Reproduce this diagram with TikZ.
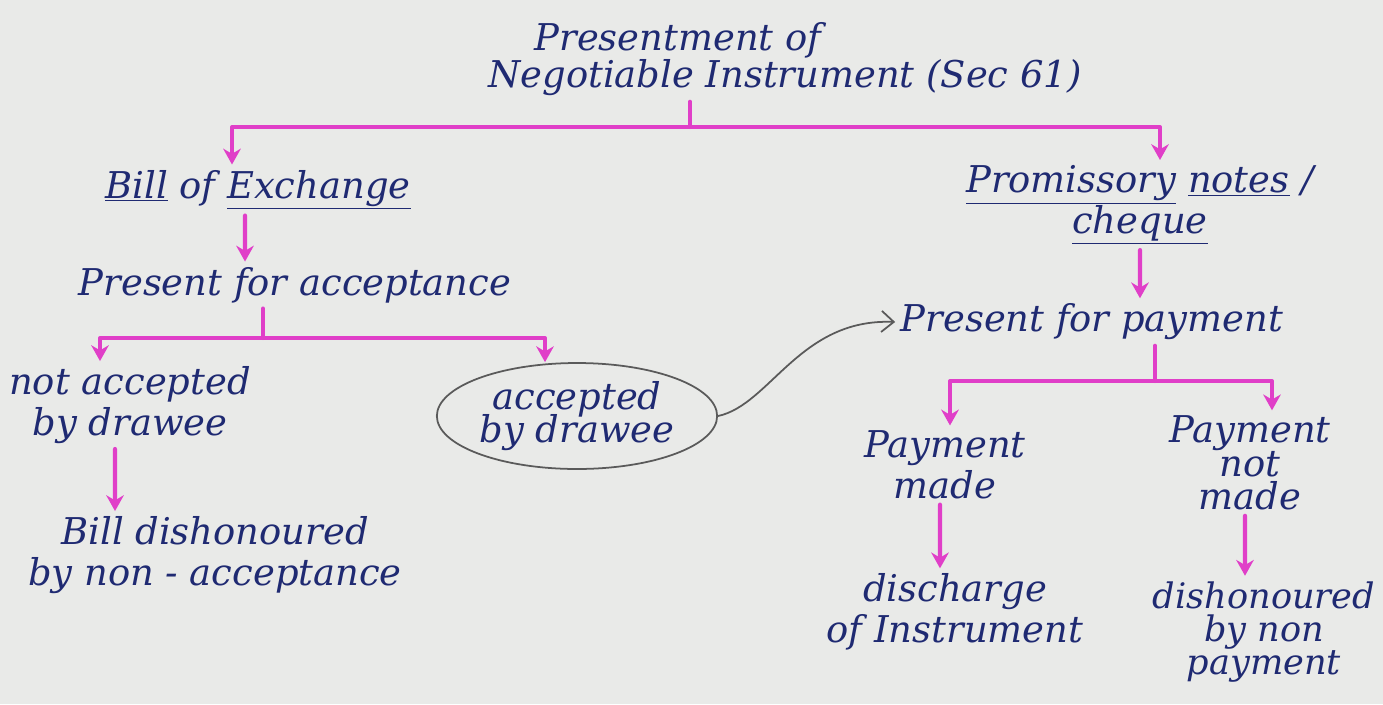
\documentclass[tikz,border=0pt]{standalone}
\usepackage{fontspec}
\setmainfont{DejaVu Serif}
\usetikzlibrary{arrows.meta,positioning,shapes.geometric}
\definecolor{Paper}{HTML}{E9EAE8}
\definecolor{Ink}{HTML}{1F2A72}
\definecolor{Marker}{HTML}{E03FC8}
\definecolor{Pencil}{HTML}{5A5A5A}

\begin{document}
\begin{tikzpicture}[x=0.02cm,y=-0.02cm,>=Latex]
        \tikzset{
          hand/.style={
            text=Ink,
            font=\itshape\fontsize{21}{23}\selectfont,
            align=center,
            inner sep=3pt
          },
          branch/.style={draw=Marker,line width=2.3pt,line cap=round,line join=round},
          down/.style={branch,-{Stealth[length=9pt,width=10pt]}},
          link/.style={draw=Pencil,line width=1pt,-{Straight Barb[length=7pt,width=12pt]}}
        }
        \fill[Paper] (0,0) rectangle (1383,704);
        \useasboundingbox (0,0) rectangle (1383,704);
        % titles
        \node[hand] (title1) at (678,40) {Presentment of};
        \node[hand] (title2) at (785,78) {Negotiable Instrument (Sec 61)};
        % left side
        \node[hand] (boe) at (258,190) {\underline{Bill} of \underline{Exchange}};
        \node[hand] (pfa) at (295,285) {Present for acceptance};
        \node[hand] (nab) at (130,405) {not accepted\\by drawee};
        \node[hand,ellipse,draw=Pencil,line width=1pt,inner sep=1pt,minimum width=4.9cm,minimum height=2.12cm] (abd) at (577,416) {accepted\\[-4pt]by drawee};
        \node[hand] (bdna) at (215,555) {Bill dishonoured\\by non - acceptance};
        % right side
        \node[hand] (pn) at (1140,205) {\underline{Promissory} \underline{notes} /\\\underline{cheque}};
        \node[hand] (pfp) at (1092,322) {Present for payment};
        \node[hand] (pm) at (945,465) {Payment\\made};
        \node[hand] (pnm) at (1250,463) {Payment\\[-4pt]not\\[-4pt]made};
        \node[hand,font=\itshape\fontsize{20}{22}\selectfont] (dnp) at (1264,632) {dishonoured\\[-3pt]by non\\[-3pt]payment};
        \node[hand] (dis) at (955,612) {discharge\\of Instrument};
        % forks
        \coordinate (topfork) at (690,127);
        \coordinate (accfork) at (263,338);
        \coordinate (payfork) at (1155,381);
        \draw[branch] (title2.south -| topfork) -- (topfork);
        \draw[down] (topfork) -| ([xshift=-0.52cm]boe.north);
        \draw[down] (topfork) -| ([xshift=0.4cm]pn.north);
        \draw[down] ([xshift=-0.26cm]boe.south) -- ([xshift=-1cm]pfa.north);
        \draw[branch] (pfa.south -| accfork) -- (accfork);
        \draw[down] (accfork) -| ([xshift=-0.6cm]nab.north);
        \draw[down] (accfork) -| ([xshift=-0.64cm]abd.north);
        \draw[down] ([xshift=-0.3cm]nab.south) -- ([xshift=-2cm]bdna.north);
        \draw[down] (pn.south) -- ([xshift=0.96cm]pfp.north);
        \draw[branch] (pfp.south -| payfork) -- (payfork);
        \draw[down] (payfork) -| ([xshift=0.1cm]pm.north);
        \draw[down] (payfork) -| ([xshift=0.44cm]pnm.north);
        \draw[down] ([xshift=-0.1cm]pm.south) -- ([xshift=-0.3cm]dis.north);
        \draw[down] ([xshift=-0.1cm]pnm.south) -- ([xshift=-0.38cm]dnp.north);
        % accepted bill goes on for payment
        \draw[link] (abd.east) .. controls (770,405) and (800,318) .. (pfp.west);
\end{tikzpicture}
\end{document}
